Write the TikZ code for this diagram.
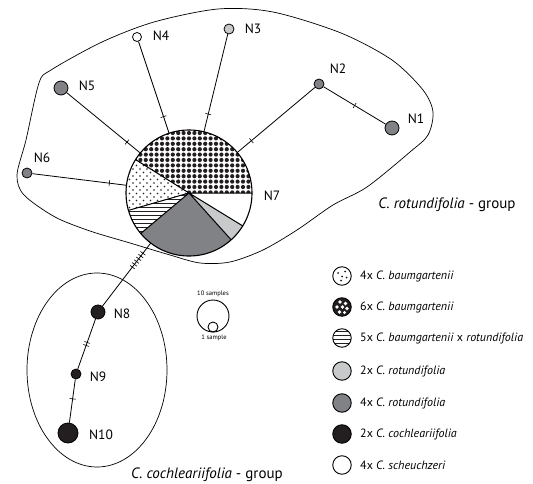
\documentclass[tikz,border=0pt]{standalone}
\usepackage{fontspec}
\setmainfont{PT Sans}
\usetikzlibrary{patterns,positioning}
\definecolor{hapdark}{RGB}{35,31,32}
\definecolor{hapgray}{RGB}{128,130,133}
\definecolor{haplight}{RGB}{200,201,203}

% pie fillings
\pgfdeclarepatternformonly{bigdots}{\pgfqpoint{-2.3pt}{-2.3pt}}{\pgfqpoint{2.3pt}{2.3pt}}{\pgfqpoint{5.4pt}{5.4pt}}{%
  \pgfpathcircle{\pgfqpoint{0pt}{0pt}}{2.1pt}\pgfusepath{fill}}
\pgfdeclarepatternformonly{smalldots}{\pgfqpoint{-1pt}{-1pt}}{\pgfqpoint{4.5pt}{4.5pt}}{\pgfqpoint{7pt}{7pt}}{%
  \pgfpathcircle{\pgfqpoint{0pt}{0pt}}{0.8pt}\pgfpathcircle{\pgfqpoint{3.5pt}{3.5pt}}{0.8pt}\pgfusepath{fill}}
\pgfdeclarepatternformonly{hstripes}{\pgfqpoint{0pt}{0pt}}{\pgfqpoint{1pt}{1.4pt}}{\pgfqpoint{1pt}{4pt}}{%
  \pgfpathrectangle{\pgfqpoint{0pt}{0pt}}{\pgfqpoint{1pt}{1.4pt}}\pgfusepath{fill}}

\begin{document}
\begin{tikzpicture}[x=1pt, y=-1pt, font=\fontsize{13.5}{16}\selectfont,
    hap/.style={circle, draw, line width=0.8pt, inner sep=0pt},
    edge/.style={line width=0.8pt},
    tick/.style={draw, sloped, line width=0.6pt, minimum width=0pt, minimum height=6pt, inner sep=0pt},
    keyball/.style={circle, draw, line width=0.9pt, inner sep=0pt, minimum size=18.5pt},
    keytext/.style={right=5pt of #1, font=\fontsize{12}{14}\selectfont}]
    \useasboundingbox (0,0) rectangle (533,484);

    % Group outlines
    \draw[line width=0.7pt] plot[smooth cycle] coordinates {(17,175) (26,140) (39,83) (51,70) (102,42)
        (154,22) (218,9) (273,12) (341,33) (392,60) (423,90) (433,112) (428,135) (410,152)
        (367,187) (333,205) (297,230) (263,250) (230,262) (200,263) (170,255) (130,243)
        (90,231) (55,217) (24,195)};
    \draw[line width=0.7pt] (97,370) ellipse (70 and 97);

    % Haplotypes
    \node[circle, minimum size=126pt, inner sep=0pt] (N7) at (189,193) {};
    \node[hap, fill=hapgray, minimum size=14pt] (N1) at (392,128) {};
    \node[hap, fill=hapgray, minimum size=10pt] (N2) at (319,84) {};
    \node[hap, fill=haplight, minimum size=10pt] (N3) at (229,29) {};
    \node[hap, fill=white, minimum size=9pt] (N4) at (137,37) {};
    \node[hap, fill=hapgray, minimum size=14pt] (N5) at (61,88) {};
    \node[hap, fill=hapgray, minimum size=10pt] (N6) at (27,173) {};
    \node[hap, fill=hapdark, minimum size=14pt] (N8) at (98,312) {};
    \node[hap, fill=hapdark, minimum size=10pt] (N9) at (76,374) {};
    \node[hap, fill=hapdark, minimum size=20pt] (N10) at (68,433) {};

    % Mutation steps
    \draw[edge] (N1) -- (N2) node[tick, pos=0.5] {};
    \draw[edge] (N2) -- (N7) node[tick, pos=0.82] {};
    \draw[edge] (N3) -- (N7) node[tick, pos=0.82] {};
    \draw[edge] (N4) -- (N7) node[tick, pos=0.82] {};
    \draw[edge] (N5) -- (N7) node[tick, pos=0.82] {};
    \draw[edge] (N6) -- (N7) node[tick, pos=0.82] {};
    \draw[edge] (N7) -- (N8) node[tick, pos=0.16] {} node[tick, pos=0.204] {} node[tick, pos=0.248] {}
        node[tick, pos=0.292] {} node[tick, pos=0.336] {} node[tick, pos=0.38] {};
    \draw[edge] (N8) -- (N9) node[tick, pos=0.47] {} node[tick, pos=0.53] {};
    \draw[edge] (N9) -- (N10) node[tick, pos=0.45] {};

    % Pie of N7
    \begin{scope}[shift={(189,193)}, y=1pt]
        \fill[white] (0,0) circle (63);
        \fill[pattern=bigdots, pattern color=hapdark] (0,0) -- (0:63) arc (0:148:63) -- cycle;
        \fill[pattern=smalldots, pattern color=hapdark] (0,0) -- (148:63) arc (148:196:63) -- cycle;
        \fill[pattern=hstripes, pattern color=hapdark] (0,0) -- (196:63) arc (196:220:63) -- cycle;
        \fill[hapgray] (0,0) -- (220:63) arc (220:312:63) -- cycle;
        \fill[haplight] (0,0) -- (312:63) arc (312:328.5:63) -- cycle;
        \draw[line width=1pt] (0,0) -- (0:63) (0,0) -- (148:63) (0,0) -- (196:63)
            (0,0) -- (220:63) (0,0) -- (312:63) (0,0) -- (328.5:63);
        \draw[line width=1.1pt] (0,0) circle (63);
    \end{scope}

    % Haplotype names
    \node (N1name) at (416,119) {N1};
    \node (N2name) at (338,69) {N2};
    \node (N3name) at (253,29) {N3};
    \node (N4name) at (161,36) {N4};
    \node (N5name) at (87,86) {N5};
    \node (N6name) at (42,158) {N6};
    \node (N7name) at (272,196) {N7};
    \node (N8name) at (122,314) {N8};
    \node (N9name) at (98,377) {N9};
    \node (N10name) at (101,435) {N10};

    % Group names
    \node[font=\fontsize{15}{18}\selectfont] (rotgroup) at (447,205) {\textit{C. rotundifolia} - group};
    \node[font=\fontsize{15}{18}\selectfont] (cochgroup) at (207,475) {\textit{C. cochleariifolia} - group};

    % Circle size scale
    \node[hap, line width=0.9pt, minimum size=32pt] (tensize) at (213,316) {};
    \node[hap, line width=0.9pt, minimum size=10pt, anchor=south] (onesize) at (tensize.south) {};
    \node[font=\fontsize{6.5}{8}\selectfont] (tentext) at (213,294) {10 samples};
    \node[font=\fontsize{6.5}{8}\selectfont] (onetext) at (214,338) {1 sample};

    % Legend
    \node[keyball] (key1) at (342,276) {};
    \node[keyball, fill=hapdark] (key2) at (342,307) {};
    \node[keyball, pattern=hstripes, pattern color=hapdark] (key3) at (342,338) {};
    \node[keyball, fill=haplight] (key4) at (342,371) {};
    \node[keyball, fill=hapgray] (key5) at (342,403) {};
    \node[keyball, fill=hapdark] (key6) at (342,434) {};
    \node[keyball, fill=white] (key7) at (342,465) {};
    \begin{scope}[shift={(key1)}]
        \fill[hapdark] (-4,-3) circle (1pt) (3,-4.5) circle (1pt) (0,0.5) circle (1pt)
            (4.5,1.5) circle (1pt) (-1,4.5) circle (1pt);
    \end{scope}
    \begin{scope}[shift={(key2)}]
        \fill[white] (-2,-5) circle (1.9pt) (3.5,-3.5) circle (1.9pt) (-5,0) circle (1.9pt)
            (0.5,0) circle (1.9pt) (5,1.5) circle (1.9pt) (-2.5,5) circle (1.9pt) (2.5,5.5) circle (1.6pt);
    \end{scope}
    \node[keytext=key1] (key1text) {4x \textit{C. baumgartenii}};
    \node[keytext=key2] (key2text) {6x \textit{C. baumgartenii}};
    \node[keytext=key3] (key3text) {5x \textit{C. baumgartenii} x \textit{rotundifolia}};
    \node[keytext=key4] (key4text) {2x \textit{C. rotundifolia}};
    \node[keytext=key5] (key5text) {4x \textit{C. rotundifolia}};
    \node[keytext=key6] (key6text) {2x \textit{C. cochleariifolia}};
    \node[keytext=key7] (key7text) {4x \textit{C. scheuchzeri}};
\end{tikzpicture}
\end{document}
